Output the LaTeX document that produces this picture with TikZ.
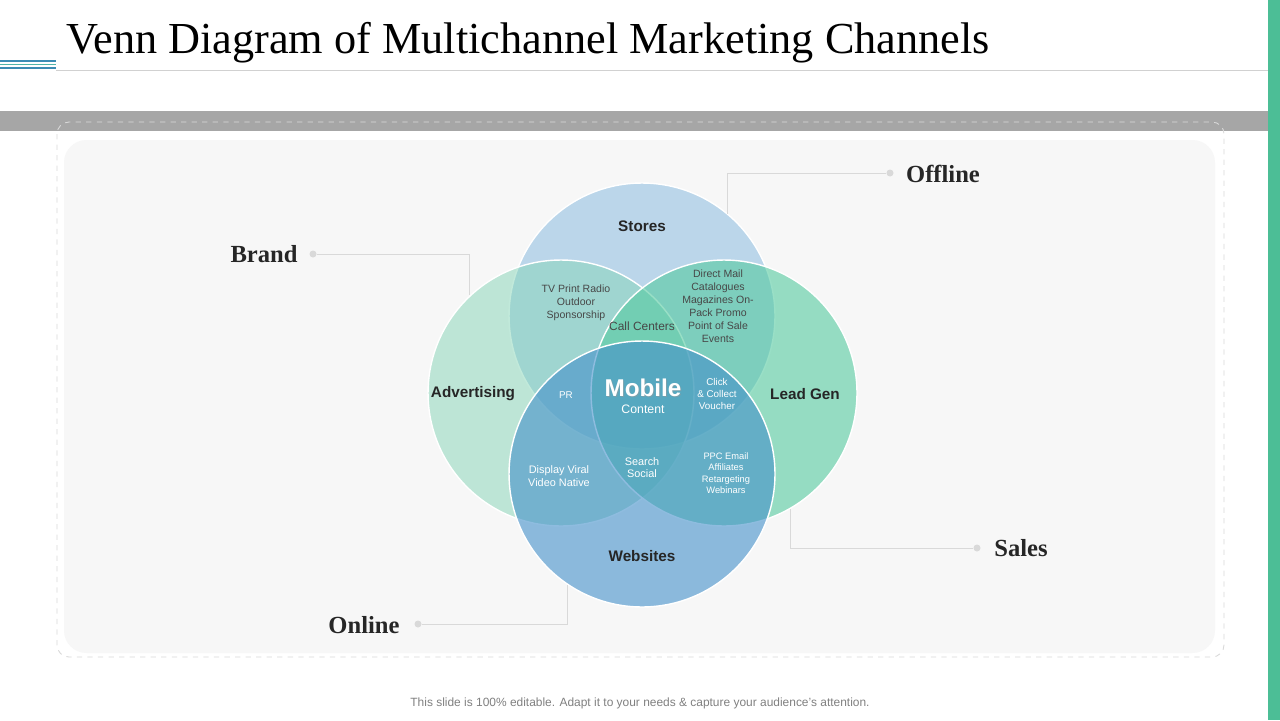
\documentclass[tikz,border=0pt]{standalone}
\usepackage{fontspec}
\setmainfont{Liberation Serif}
\setsansfont{Liberation Sans}
\usetikzlibrary{positioning}

\definecolor{storesblue}{RGB}{129,183,223}
\definecolor{advgreen}{RGB}{133,213,183}
\definecolor{leadgreen}{RGB}{85,202,160}
\definecolor{webblue}{RGB}{68,144,202}
\definecolor{sidegreen}{RGB}{76,190,150}
\definecolor{bandgray}{RGB}{166,166,166}
\definecolor{panelgray}{RGB}{247,247,247}
\definecolor{labelink}{RGB}{38,38,38}
\definecolor{stripeblue}{RGB}{60,140,180}
\definecolor{stripeteal}{RGB}{80,180,170}

\begin{document}
\begin{tikzpicture}[
  x=0.02cm, y=-0.02cm,
  venn/.style={circle, draw=white, line width=0.8pt, minimum size=5.32cm, inner sep=0pt, fill opacity=#1},
  circlabel/.style={font=\sffamily\bfseries\fontsize{8.7}{10}\selectfont, text=labelink, inner sep=0pt},
  zonetext/.style={font=\sffamily\fontsize{6}{7.4}\selectfont, text=labelink!85, align=center, inner sep=0pt},
  whitetext/.style={font=\sffamily\fontsize{5.6}{6.7}\selectfont, text=white, align=center, inner sep=0pt},
  sidelabel/.style={font=\bfseries\fontsize{14}{16}\selectfont, text=labelink, inner sep=0pt},
  dotmark/.style={circle, fill=black!15, minimum size=0.14cm, inner sep=0pt},
  leader/.style={draw=black!15, line width=0.5pt}
]
  \useasboundingbox (0,0) rectangle (1280,720);
  \fill[white] (0,0) rectangle (1280,720);

  % header
  \draw[stripeblue, line width=0.9pt] (0,61) -- (56,61);
  \draw[stripeteal, line width=0.9pt] (0,64.5) -- (56,64.5);
  \draw[stripeblue, line width=0.9pt] (0,68) -- (56,68);
  \draw[black!18, line width=0.5pt] (56,70) -- (1268,70);
  \node[anchor=base west, inner sep=0pt, font=\fontsize{25.2}{30}\selectfont] (title) at (66,53) {Venn Diagram of Multichannel Marketing Channels};
  \fill[bandgray] (0,111) rectangle (1268,131);
  \fill[sidegreen] (1268,0) rectangle (1280,720);

  % frame and panel
  \draw[black!15, dashed, line width=0.5pt, rounded corners=0.24cm] (57,122) rectangle (1224,657);
  \fill[panelgray, rounded corners=0.45cm] (64,140) rectangle (1215,653);

  % circles
  \node[venn=0.5, fill=storesblue] (stores) at (642,316) {};
  \node[venn=0.5, fill=advgreen] (advert) at (561,393) {};
  \node[venn=0.6, fill=leadgreen] (leadgen) at (724,393) {};
  \node[venn=0.6, fill=webblue] (websites) at (642,474) {};

  % circle labels
  \node[circlabel] (storeslbl) at (642,226) {Stores};
  \node[circlabel] (advertlbl) at (473,394) {Advertising};
  \node[circlabel] (leadgenlbl) at (805,394) {Lead Gen};
  \node[circlabel] (websiteslbl) at (642,556) {Websites};

  % overlaps
  \node[zonetext] (tvprint) at (576,303) {TV Print Radio\\Outdoor\\Sponsorship};
  \node[zonetext, font=\sffamily\fontsize{6.8}{8}\selectfont] (callctr) at (642,326) {Call Centers};
  \node[zonetext] (directmail) at (718,306) {Direct Mail\\Catalogues\\Magazines On-\\Pack Promo\\Point of Sale\\Events};
  \node[font=\sffamily\bfseries\fontsize{13.8}{15}\selectfont, text=black!40, opacity=0.5, inner sep=0pt] (mobileshade) at (644,389) {Mobile};
  \node[font=\sffamily\bfseries\fontsize{13.8}{15}\selectfont, text=white, inner sep=0pt] (mobile) at (643,388) {Mobile};
  \node[whitetext, font=\sffamily\fontsize{7}{8}\selectfont] (content) at (643,409) {Content};
  \node[whitetext] (pr) at (566,395) {PR};
  \node[whitetext] (click) at (717,394) {Click\\\& Collect\\Voucher};
  \node[whitetext, font=\sffamily\fontsize{6.2}{7.4}\selectfont] (display) at (559,476) {Display Viral\\Video Native};
  \node[whitetext, font=\sffamily\fontsize{6.2}{6.9}\selectfont] (search) at (642,468) {Search\\Social};
  \node[whitetext, font=\sffamily\fontsize{5.3}{6.5}\selectfont] (ppc) at (726,473) {PPC Email\\Affiliates\\Retargeting\\Webinars};

  % side labels
  \node[sidelabel] (brand) at (264,254) {Brand};
  \node[dotmark] (branddot) at (313,254) {};
  \draw[leader] (branddot) -| (advert.133);
  \node[sidelabel] (offline) at (943,174) {Offline};
  \node[dotmark] (offlinedot) at (890,173) {};
  \draw[leader] (offlinedot) -| (stores.50);
  \node[sidelabel] (sales) at (1021,548) {Sales};
  \node[dotmark] (salesdot) at (977,548) {};
  \draw[leader] (salesdot) -| (leadgen.-60);
  \node[sidelabel] (online) at (364,625) {Online};
  \node[dotmark] (onlinedot) at (418,624) {};
  \draw[leader] (onlinedot) -| (websites.236);

  \node[font=\sffamily\fontsize{6.8}{8}\selectfont, text=black!50, inner sep=0pt] (footer) at (640,703) {This slide is 100\% editable. Adapt it to your needs \& capture your audience’s attention.};
\end{tikzpicture}
\end{document}
